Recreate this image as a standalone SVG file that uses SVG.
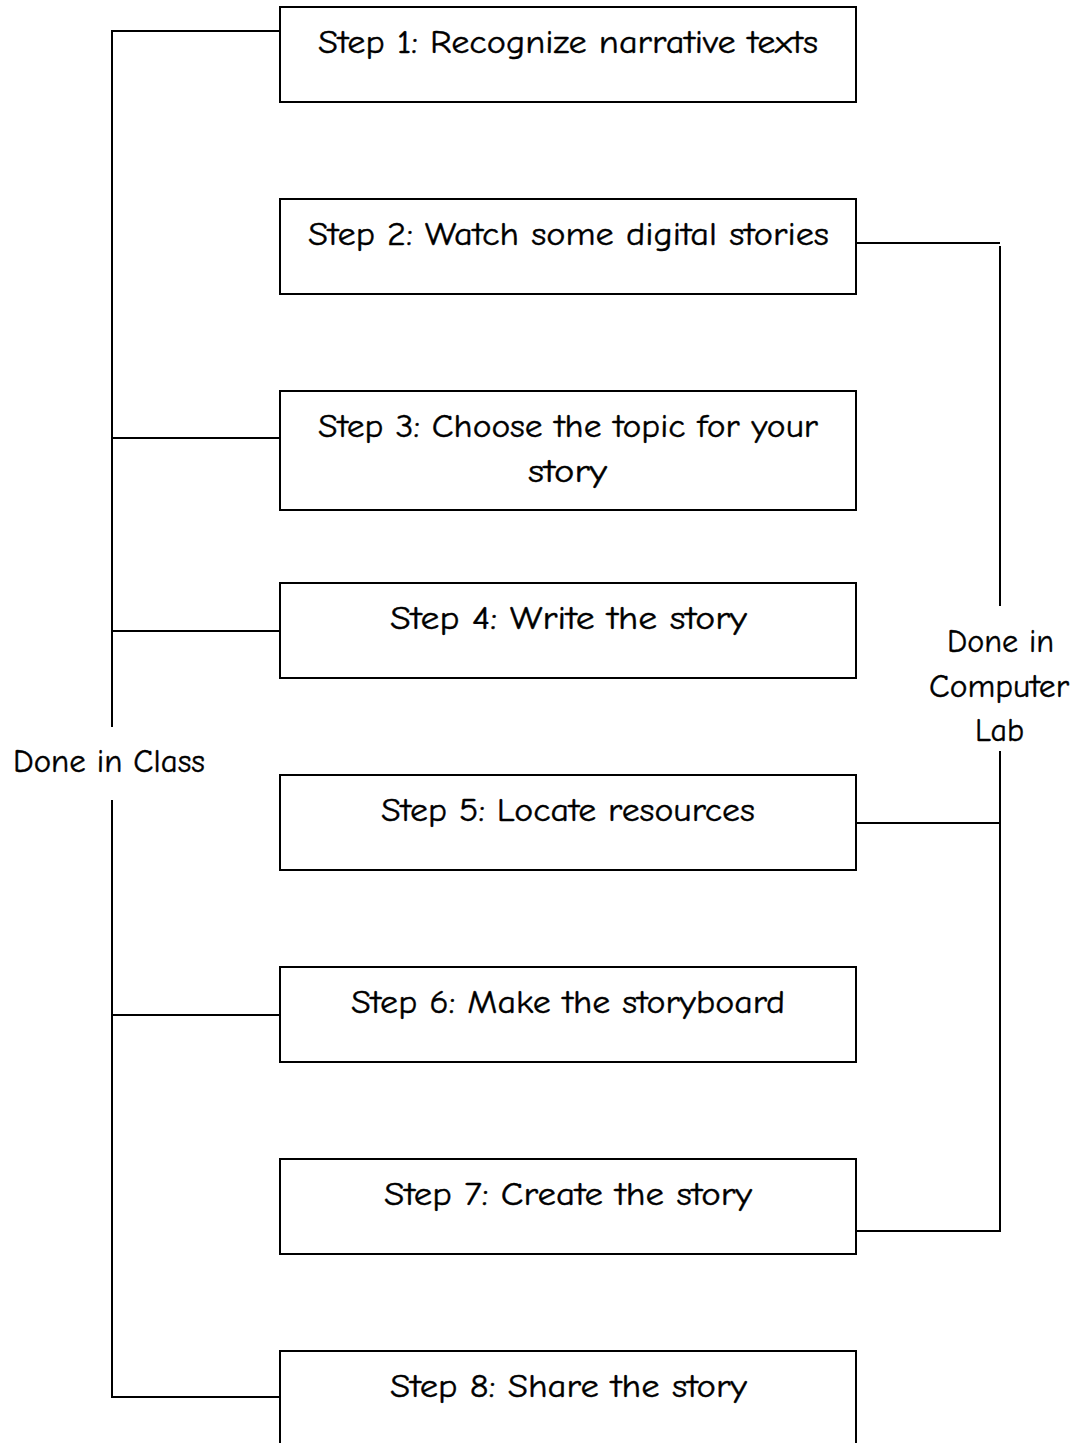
<svg xmlns="http://www.w3.org/2000/svg" width="1080" height="1443" viewBox="0 0 1080 1443">
<style>
.box{fill:#fff;stroke:#000;stroke-width:2}
.ln{fill:none;stroke:#000;stroke-width:2}
text{font-family:"Comic Sans MS","Comic Neue","DejaVu Sans",sans-serif;font-size:33px;fill:#000;stroke:#000;stroke-width:0.4;text-anchor:middle}
</style>
<rect width="1080" height="1443" fill="#fff"/>
<g id="connectors">
<path class="ln" d="M280,31 H112 V727"/>
<path class="ln" d="M112,800 V1397 H280"/>
<path class="ln" d="M112,438 H280"/>
<path class="ln" d="M112,631 H280"/>
<path class="ln" d="M112,1015 H280"/>
<path class="ln" d="M856,243 H1000"/>
<path class="ln" d="M1000,246 V606"/>
<path class="ln" d="M1000,751 V1231 H856"/>
<path class="ln" d="M856,823 H1000"/>
</g>
<g id="step1"><rect class="box" x="280" y="7" width="576" height="95"/><text x="568" y="53" textLength="500" lengthAdjust="spacingAndGlyphs">Step 1: Recognize narrative texts</text></g>
<g id="step2"><rect class="box" x="280" y="199" width="576" height="95"/><text x="568.5" y="245" textLength="521" lengthAdjust="spacingAndGlyphs">Step 2: Watch some digital stories</text></g>
<g id="step3"><rect class="box" x="280" y="391" width="576" height="119"/><text x="568" y="437" textLength="500" lengthAdjust="spacingAndGlyphs">Step 3: Choose the topic for your</text><text x="567.5" y="482" textLength="79" lengthAdjust="spacingAndGlyphs">story</text></g>
<g id="step4"><rect class="box" x="280" y="583" width="576" height="95"/><text x="568.5" y="629" textLength="357" lengthAdjust="spacingAndGlyphs">Step 4: Write the story</text></g>
<g id="step5"><rect class="box" x="280" y="775" width="576" height="95"/><text x="568" y="821" textLength="374" lengthAdjust="spacingAndGlyphs">Step 5: Locate resources</text></g>
<g id="step6"><rect class="box" x="280" y="967" width="576" height="95"/><text x="568" y="1013" textLength="434" lengthAdjust="spacingAndGlyphs">Step 6: Make the storyboard</text></g>
<g id="step7"><rect class="box" x="280" y="1159" width="576" height="95"/><text x="568" y="1205" textLength="368" lengthAdjust="spacingAndGlyphs">Step 7: Create the story</text></g>
<g id="step8"><rect class="box" x="280" y="1351" width="576" height="120"/><text x="568.5" y="1397" textLength="357" lengthAdjust="spacingAndGlyphs">Step 8: Share the story</text></g>
<g id="class-label"><text x="109" y="772" textLength="192" lengthAdjust="spacingAndGlyphs">Done in Class</text></g>
<g id="lab-label"><text x="1000.5" y="652" textLength="107" lengthAdjust="spacingAndGlyphs">Done in</text><text x="999" y="697" textLength="140" lengthAdjust="spacingAndGlyphs">Computer</text><text x="999.5" y="741" textLength="49" lengthAdjust="spacingAndGlyphs">Lab</text></g>
</svg>
